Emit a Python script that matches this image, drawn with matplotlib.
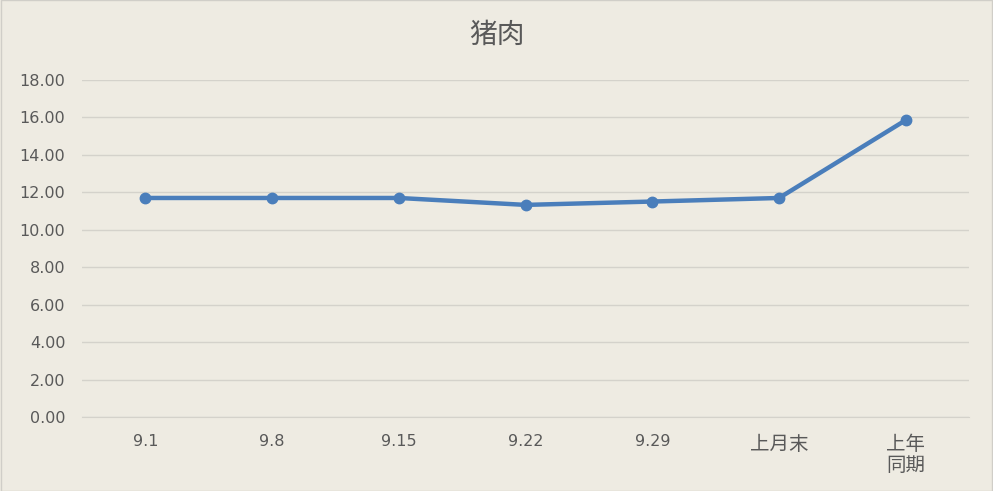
import matplotlib
matplotlib.use("Agg")
import matplotlib.pyplot as plt

plt.rcParams['font.family'] = ['DejaVu Sans', 'Noto Sans CJK SC']

# data
categories = ["9.1", "9.8", "9.15", "9.22", "9.29", "上月末", "上年\n同期"]
prices = [11.70, 11.70, 11.70, 11.33, 11.51, 11.70, 15.86]

bg = "#EEEBE2"
txt = "#595959"

fig = plt.figure(figsize=(9.93, 4.91), dpi=100, facecolor=bg)
ax = fig.add_axes([0.0826, 0.1507, 0.8934, 0.6863])
ax.set_facecolor(bg)

x = list(range(len(categories)))
ax.plot(x, prices, color="#4A7EBB", linewidth=3.2, marker="o", markersize=7.5)

ax.set_xlim(-0.5, len(categories) - 0.5)
ax.set_ylim(0, 18)
ax.set_yticks([i * 2 for i in range(10)])
ax.set_yticklabels(["%.2f" % (i * 2) for i in range(10)])
ax.set_xticks(x)

ax.grid(axis="y", color="#D4D2CB", linewidth=1)
ax.set_axisbelow(True)
for s in ["top", "right", "left"]:
    ax.spines[s].set_visible(False)
ax.spines["bottom"].set_color("#D4D2CB")
ax.tick_params(axis="both", length=0, colors=txt, labelsize=11.5)
ax.tick_params(axis="y", pad=12)
ax.tick_params(axis="x", pad=12)

ax.set_xticklabels(categories, linespacing=1.05)
for lab in ax.get_xticklabels():
    if not lab.get_text()[0].isdigit():
        lab.set_family(['Noto Sans CJK SC', 'DejaVu Sans'])
        lab.set_fontsize(14)

fig.text(0.5, 0.93, "猪肉", ha="center", va="center", fontsize=20,
         color=txt, family=['Noto Sans CJK SC', 'DejaVu Sans'])

# outer border
fig.patches.append(plt.Rectangle((0.001, 0.001), 0.998, 0.998, transform=fig.transFigure,
                                 fill=False, edgecolor="#D0CEC8", linewidth=1))

fig.savefig("out.png", dpi=100, facecolor=bg)
